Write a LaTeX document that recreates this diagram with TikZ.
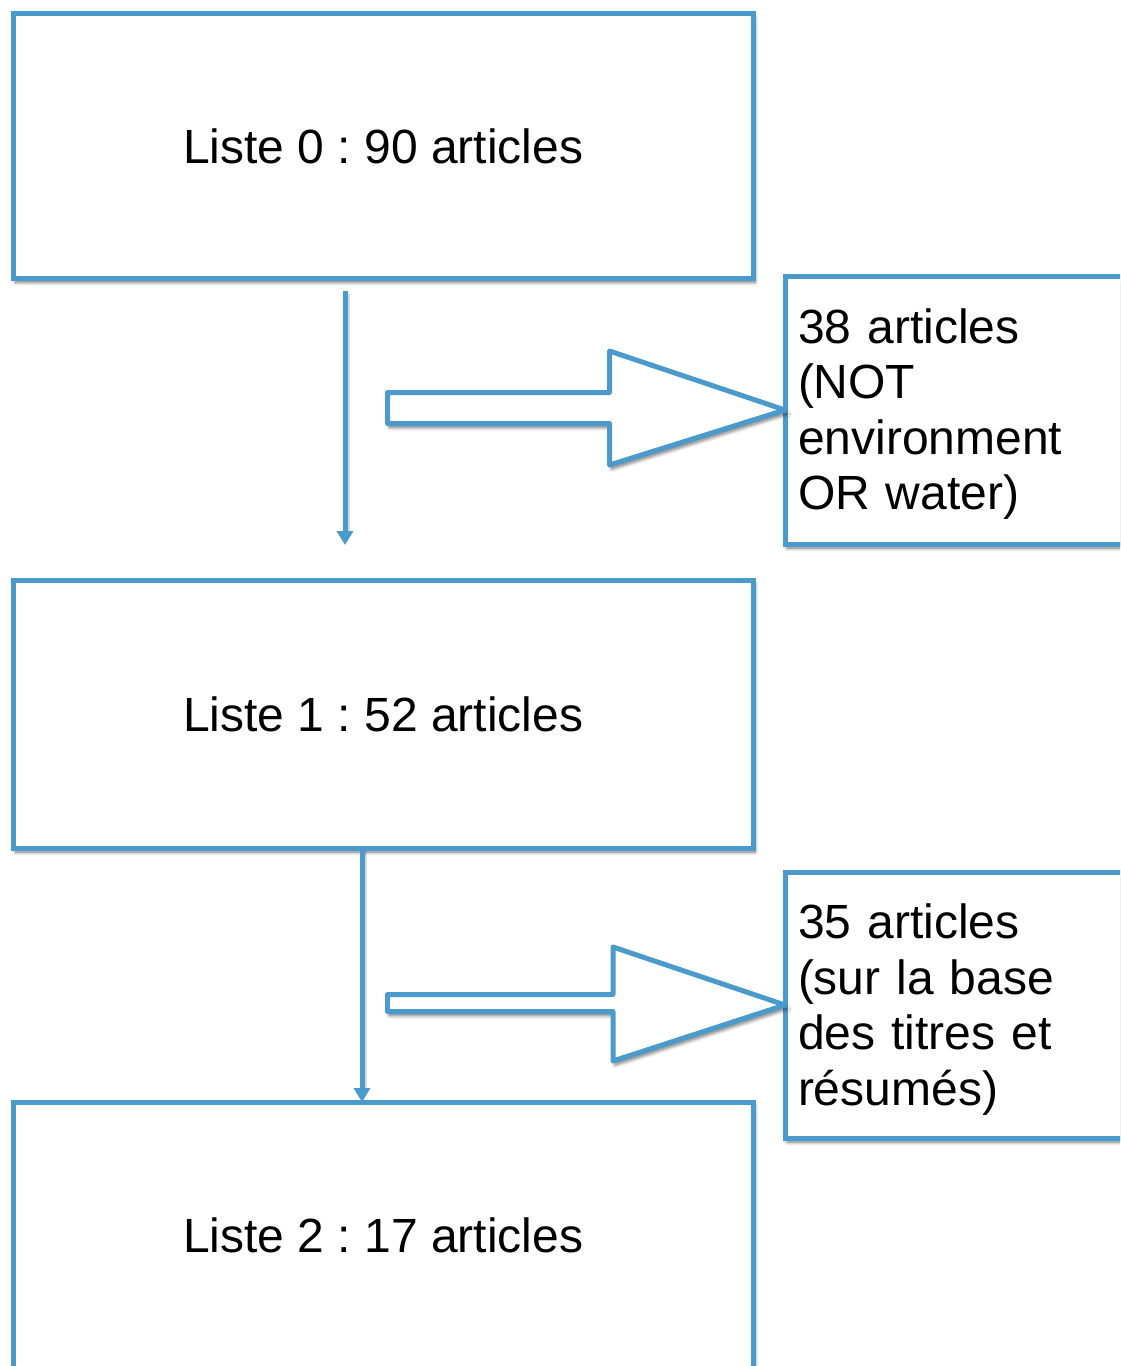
\documentclass[tikz,border=0pt]{standalone}
\usepackage{fontspec}
\setmainfont{Liberation Sans}
\usetikzlibrary{arrows.meta,shadows.blur}
\definecolor{fblue}{RGB}{74,155,204}
\frenchspacing
\tikzset{
  softshadow/.style={blur shadow={shadow xshift=2pt,shadow yshift=-4pt,shadow blur steps=8,shadow blur radius=3.5pt,shadow opacity=55}},
  mainbox/.style={draw=fblue,fill=white,line width=5pt,outer sep=0pt,minimum width=739.5pt,inner sep=0pt,softshadow,
    font=\fontsize{48}{55.5}\selectfont},
  sidebox/.style={draw=fblue,fill=white,line width=5pt,outer sep=0pt,inner xsep=13pt,inner ysep=0pt,anchor=west,
    text width=330pt,align=left,softshadow,font=\fontsize{48}{55.5}\selectfont},
  blockarrow/.style={draw=fblue,fill=white,line width=5pt,line join=round,softshadow},
  flowarrow/.style={draw=fblue,line width=5pt,-{Triangle[width=16pt,length=14pt]}},
  flowshadow/.style={draw=black,opacity=0.15,line width=7pt}
}
\begin{document}
\begin{tikzpicture}[x=1pt,y=-1pt]
\useasboundingbox (0,0) rectangle (1120,1366);
\clip (0,0) rectangle (1120,1366);
% main boxes
\node[mainbox,minimum height=264.5pt] (box0) at (383.25,146) {Liste 0 : 90 articles};
\node[mainbox,minimum height=268pt] (box1) at (383.25,714) {Liste 1 : 52 articles};
\node[mainbox,minimum height=266pt] (box2) at (383.25,1235) {Liste 2 : 17 articles};
% side boxes
\node[sidebox,minimum height=268pt] (side1) at (785,410) {\rule{0pt}{43pt}38 articles\\(NOT\\environment\\OR water)};
\node[sidebox,minimum height=266pt] (side2) at (785,1005) {\rule{0pt}{44pt}35 articles\\(sur la base\\des titres et\\résumés)};
% block arrows
\path[blockarrow] (387.5,392.5) -- (609.5,392.5) -- (609.5,351) -- (side1.west) -- (609.5,465)
  -- (609.5,423.5) -- (387.5,423.5) -- cycle;
\path[blockarrow] (387.5,994.5) -- (613,994.5) -- (613,947) -- (side2.west) -- (613,1061)
  -- (613,1011.5) -- (387.5,1011.5) -- cycle;
% vertical arrows
\coordinate (a1s) at (345,291);
\coordinate (a1e) at (345,545);
\coordinate (a2s) at (box1.south -| 362,0);
\coordinate (a2e) at (box2.north -| 362,0);
\draw[flowshadow] ([shift={(1.5,3)}]a1s) -- ([shift={(1.5,-8)}]a1e);
\draw[flowarrow] (a1s) -- (a1e);
\draw[flowshadow] ([shift={(1.5,3)}]a2s) -- ([shift={(1.5,-8)}]a2e);
\draw[flowarrow] (a2s) -- (a2e);
\end{tikzpicture}
\end{document}
